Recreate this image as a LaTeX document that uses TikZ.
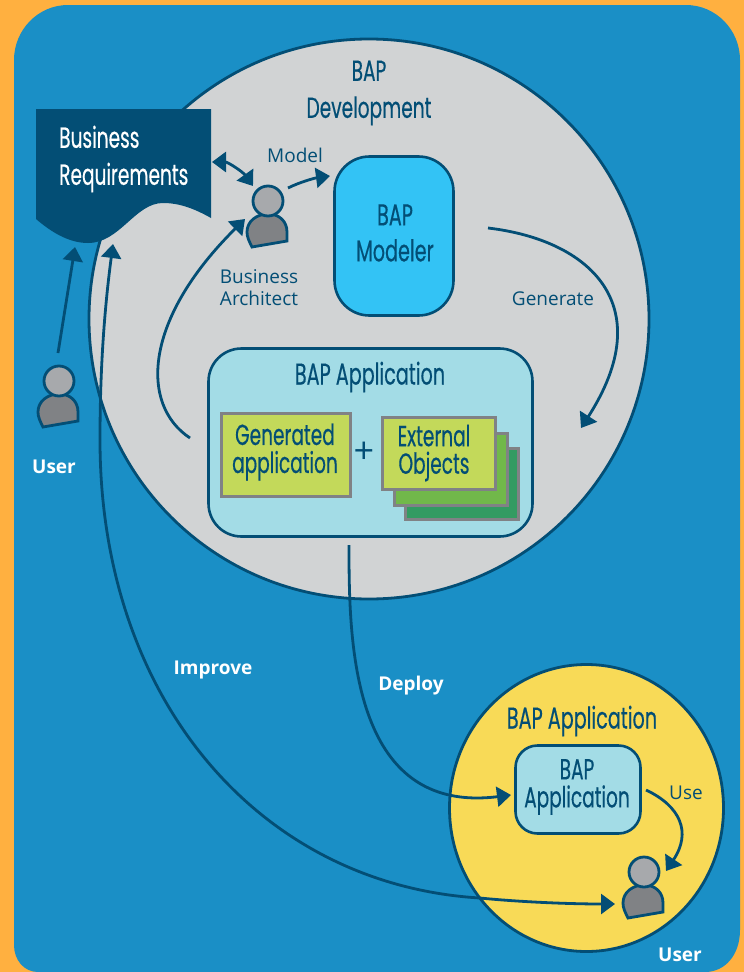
\documentclass[tikz,border=0pt]{standalone}
\usepackage{fontspec}
\setmainfont{Open Sans}
\newfontfamily\fut[FakeStretch=0.64,FakeBold=0.4]{Poppins}
\usetikzlibrary{arrows.meta}
\definecolor{orng}{HTML}{FFB040}
\definecolor{blu}{HTML}{1A8FC6}
\definecolor{dk}{HTML}{034E75}
\definecolor{gry}{HTML}{D1D3D4}
\definecolor{ylw}{HTML}{F8DA57}
\definecolor{lblu}{HTML}{A3DCE6}
\definecolor{sky}{HTML}{33C3F5}
\definecolor{lime}{HTML}{C3D95A}
\definecolor{grn}{HTML}{71B84A}
\definecolor{dgrn}{HTML}{339B62}
\definecolor{hd}{HTML}{A7A9AC}
\definecolor{bd}{HTML}{808285}
\tikzset{
  x=1pt,y=-1pt,
  conn/.style={draw=dk,line width=2.8pt,-{Triangle[length=14pt,width=20pt]}},
  dconn/.style={draw=dk,line width=2.8pt,{Triangle[length=14pt,width=20pt]}-{Triangle[length=14pt,width=20pt]}},
  box/.style={draw=dk,line width=2.6pt,rounded corners=#1},
  layer/.style={draw=bd,line width=3pt},
  big/.style={text=dk,font=\fut\fontsize{30}{37}\selectfont,align=center,inner sep=0pt},
  mid/.style={text=dk,font=\fut\fontsize{29}{28}\selectfont,align=center,inner sep=0pt},
  wbig/.style={text=white,font=\fut\fontsize{29}{37}\selectfont,align=left,inner sep=0pt},
  lab/.style={text=dk,font=\fontsize{19}{22}\selectfont,align=center,inner sep=0pt},
  wlab/.style={text=white,font=\bfseries\fontsize{19}{22}\selectfont,inner sep=0pt},
  person/.pic={
    \draw[draw=dk,line width=2.8pt,fill=bd] (-16,46) .. controls (-19,40) and (-21,36) .. (-21,31)
      .. controls (-21,20) and (-11,13) .. (0,13) .. controls (11,13) and (19,20) .. (19,31)
      .. controls (19,34) and (19,37) .. (19,40) -- cycle;
    \draw[draw=dk,line width=2.8pt,fill=hd] (0,0) circle[radius=15];
  }
}
\begin{document}
\begin{tikzpicture}
\useasboundingbox (0,0) rectangle (744,972);
\fill[orng] (0,0) rectangle (744,972);
\fill[blu] (14,60) .. controls (14,30) and (38,5) .. (68,5) -- (686,5)
  .. controls (716,5) and (740,30) .. (740,60) -- (740,930)
  .. controls (740,955) and (725,972) .. (705,972) -- (38,972)
  .. controls (24,972) and (14,960) .. (14,945) -- cycle;

\node[circle,draw=dk,line width=2.8pt,fill=gry,minimum size=560pt,inner sep=0pt] (dev) at (369,319) {};
\draw[draw=dk,line width=2.8pt,fill=ylw] (586.5,808) ellipse[x radius=137,y radius=143.5];
\coordinate (yel) at (586.5,808);

\fill[dk] (36,109) -- (211,109) -- (211,218) .. controls (195,209) and (180,203) .. (163,203)
  .. controls (135,203) and (120,243) .. (88,243) .. controls (68,243) and (50,231) .. (36,219) -- cycle;
\node[wbig,anchor=west] (req) at (59,159) {Business\\Requirements};

\node[box=35pt,fill=sky,minimum width=119pt,minimum height=159pt] (modeler) at (394,236) {};
\node[big,font=\fut\fontsize{30}{36}\selectfont] (modelertxt) at (395,233) {BAP\\Modeler};

\node[box=33pt,fill=lblu,minimum width=324pt,minimum height=188pt] (app) at (370.5,442.5) {};
\node[big] (apptitle) at (370,377) {BAP Application};

\node[layer,fill=lime,minimum width=129pt,minimum height=83pt] (gen) at (286,455) {};
\node[mid] (gentxt) at (285,452) {Generated\\application};
\node[mid,font=\fontsize{36}{36}\selectfont] (plus) at (364,453) {+};
\node[layer,fill=dgrn,minimum width=113pt,minimum height=71pt] (ext3) at (461.5,483.5) {};
\node[layer,fill=grn,minimum width=113pt,minimum height=72pt] (ext2) at (450.5,469) {};
\node[layer,fill=lime,minimum width=113pt,minimum height=72pt] (ext1) at (438.5,453) {};
\node[mid,font=\fut\fontsize{29}{27.5}\selectfont] (exttxt) at (434,453) {External\\Objects};

\node[big,font=\fut\fontsize{29}{37}\selectfont] (devtxt) at (369,93) {BAP\\Development};
\node[lab] (model) at (295,155) {Model};
\node[lab] (arch) at (259,288) {Business\\Architect};
\node[lab] (generate) at (553,299) {Generate};
\node[wlab] (user1) at (54,467) {User};
\node[wlab] (improve) at (213,670) {Improve};
\node[wlab] (deploy) at (411,686) {Deploy};
\node[wlab] (user2) at (680,955) {User};

\node[big] (yeltitle) at (582,721) {BAP Application};
\node[box=22pt,fill=lblu,minimum width=125pt,minimum height=88pt] (inner) at (578,789.5) {};
\node[mid] (innertxt) at (577,787) {BAP\\Application};
\node[lab] (use) at (686,793) {Use};

\pic at (268,201) {person};
\pic at (59,381) {person};
\pic at (644,872) {person};
\coordinate (pa) at (268,201);
\coordinate (pu) at (59,381);
\coordinate (py) at (644,872);

\coordinate (a1) at (212,162); \coordinate (a2) at (253,186);
\draw[dconn] (a1) .. controls (228,162) and (243,172) .. (a2);
\coordinate (m1) at (288,188); \coordinate (m2) at (330,176);
\draw[conn] (m1) .. controls (300,182) and (315,178) .. (m2);
\coordinate (g1) at (488,228); \coordinate (g2) at (581,428);
\draw[conn] (g1) .. controls (590,240) and (660,305) .. (g2);
\coordinate (b1) at (190,438); \coordinate (b2) at (245,219);
\draw[conn] (b1) .. controls (140,405) and (143,320) .. (b2);
\coordinate (u1) at (58,353); \coordinate (u2) at (75,247);
\draw[conn] (u1) -- (u2);
\coordinate (d1) at (349,545); \coordinate (d2) at (511,795);
\draw[conn] (d1) .. controls (349,640) and (350,815) .. (d2);
\coordinate (s1) at (646,790); \coordinate (s2) at (666,871);
\draw[conn] (s1) .. controls (680,806) and (692,832) .. (s2);
\coordinate (i1) at (615,904); \coordinate (i2) at (113,244);
\draw[dconn] (i2) .. controls (103,320) and (100,380) .. (100,440)
  .. controls (100,700) and (260,885) .. (480,898)
  .. controls (520,902) and (570,904) .. (i1);
\end{tikzpicture}
\end{document}
